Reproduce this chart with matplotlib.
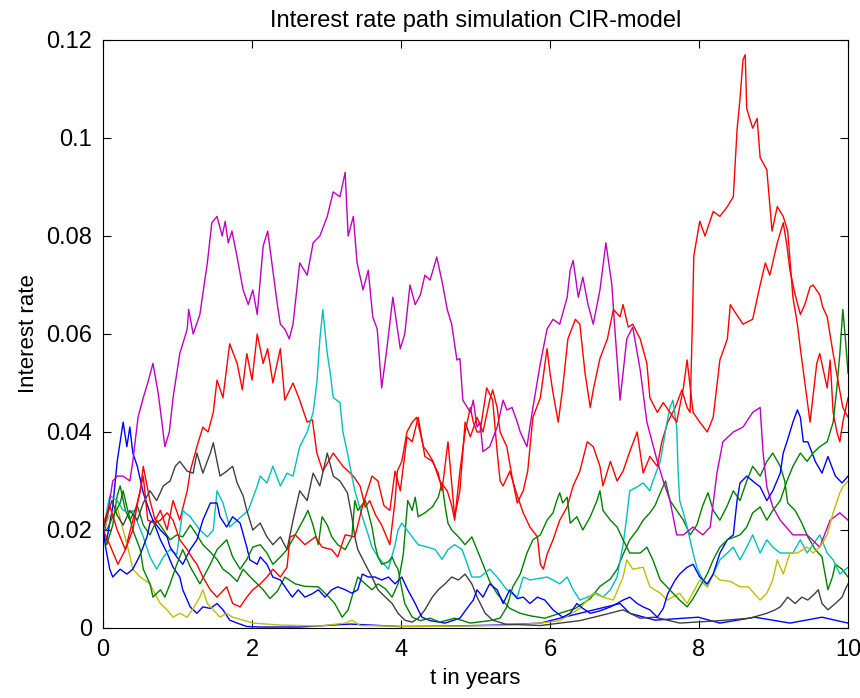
import matplotlib
matplotlib.use("Agg")
import matplotlib.pyplot as plt

plt.rcParams['font.family'] = ['Liberation Sans', 'DejaVu Sans']

title = "Interest rate path simulation CIR-model"
xlabel = "t in years"
ylabel = "Interest rate"
xticks = [0, 2, 4, 6, 8, 10]
yticks = [0, 0.02, 0.04, 0.06, 0.08, 0.1, 0.12]
ytick_labels = ["0", "0.02", "0.04", "0.06", "0.08", "0.1", "0.12"]

# ---- path 1 : blue (dies out early) ----
t_blue1 = [0, .05, .13, .19, .27, .32, .36, .40, .46, .54, .63, .67, .72, .77, .86, .94, 1.03, 1.07,
           1.17, 1.26, 1.34, 1.44, 1.53, 1.61, 1.70, 1.80, 1.93, 2.11, 2.64, 3.32, 3.99, 4.66, 5.33,
           5.87, 6.40, 6.67, 6.94, 7.07, 7.41, 7.99, 8.28, 8.75, 9.22, 9.65, 10.0]
r_blue1 = [.018, .018, .0247, .034, .042, .037, .041, .0357, .033, .0276, .0235, .022, .020, .018, .0153,
           .0124, .0104, .0078, .0043, .003, .0043, .004, .005, .0037, .0016, .001, .0003, .0002, .0002,
           .0008, .0003, .0004, .0006, .001, .003, .004, .005, .003, .0016, .0022, .001, .0022, .001,
           .0022, .001]

# ---- path 2 : green ----
t_green1 = [0, .05, .13, .19, .23, .30, .36, .46, .54, .63, .72, .81, .90, .99, 1.07, 1.17, 1.26, 1.34,
            1.44, 1.53, 1.61, 1.70, 1.80, 1.88, 1.97, 2.07, 2.15, 2.24, 2.34, 2.44, 2.58, 2.71, 2.89,
            3.02, 3.11, 3.21, 3.29, 3.34, 3.42, 3.52, 3.61, 3.69, 3.79, 3.88, 3.96, 4.03, 4.09, 4.15,
            4.19, 4.23, 4.32, 4.42, 4.50, 4.55, 4.59, 4.63, 4.68, 4.77, 4.86, 4.95, 5.02, 5.10, 5.19,
            5.29, 5.37, 5.46, 5.60, 5.73, 5.93, 6.13, 6.34, 6.54, 6.67, 6.81, 6.90, 6.98, 7.07, 7.17,
            7.25, 7.34, 7.41, 7.48, 7.55, 7.61, 7.70, 7.79, 7.88, 7.97, 8.05, 8.12, 8.19, 8.28, 8.38,
            8.46, 8.55, 8.64, 8.72, 8.82, 8.91, 8.99, 9.09, 9.15, 9.19, 9.29, 9.38, 9.46, 9.56, 9.65,
            9.73, 9.79, 9.83, 9.92, 10.0]
r_green1 = [.020, .017, .021, .027, .029, .024, .022, .025, .021, .019, .022, .020, .018, .019, .0186,
            .021, .019, .017, .0155, .014, .012, .011, .0095, .012, .0105, .009, .0078, .006, .0075,
            .0104, .009, .0085, .0084, .0065, .005, .0022, .0037, .0063, .0104, .009, .0078, .009, .008,
            .0063, .009, .015, .026, .024, .0267, .0227, .0235, .0247, .0267, .0296, .025, .0214, .020,
            .0186, .017, .0186, .016, .013, .0095, .007, .0055, .004, .003, .0025, .002, .003, .004,
            .006, .0085, .010, .012, .015, .018, .020, .022, .0235, .025, .0276, .030, .026, .024, .022,
            .019, .021, .025, .0276, .024, .022, .025, .028, .026, .030, .033, .031, .034, .0357, .033,
            .030, .0255, .024, .0214, .0186, .016, .0145, .0078, .0104, .013, .012, .0104]

# ---- path 3 : red (reaches the maximum) ----
t_red1 = [0, .09, .20, .30, .40, .50, .54, .63, .70, .77, .86, .94, 1.03, 1.13, 1.17, 1.26, 1.34, 1.41,
          1.48, 1.53, 1.61, 1.70, 1.80, 1.87, 1.93, 2.00, 2.07, 2.15, 2.21, 2.28, 2.38, 2.44, 2.55, 2.64,
          2.74, 2.81, 2.87, 2.95, 3.09, 3.22, 3.36, 3.45, 3.52, 3.58, 3.66, 3.74, 3.85, 3.92, 3.95, 4.01,
          4.08, 4.15, 4.21, 4.30, 4.35, 4.43, 4.52, 4.62, 4.68, 4.72, 4.79, 4.86, 4.93, 4.97, 5.02, 5.06,
          5.15, 5.23, 5.29, 5.33, 5.37, 5.46, 5.56, 5.64, 5.73, 5.83, 5.87, 5.91, 5.96, 6.04, 6.13, 6.23,
          6.31, 6.40, 6.50, 6.58, 6.67, 6.71, 6.81, 6.90, 6.98, 7.07, 7.17, 7.25, 7.34, 7.44, 7.50, 7.58,
          7.68, 7.77, 7.84, 7.88, 7.91, 7.93, 8.01, 8.08, 8.19, 8.28, 8.38, 8.46, 8.51, 8.55, 8.59, 8.62,
          8.64, 8.72, 8.78, 8.82, 8.91, 8.98, 9.05, 9.13, 9.19, 9.26, 9.32, 9.36, 9.45, 9.49, 9.58, 9.62,
          9.72, 9.76, 9.80, 9.85, 9.89, 9.93, 10.0]
r_red1 = [.020, .017, .013, .016, .022, .028, .033, .026, .022, .024, .020, .026, .022, .028, .032, .037,
          .041, .040, .044, .0506, .047, .058, .054, .0486, .056, .0506, .060, .054, .057, .050, .057,
          .0465, .050, .0465, .042, .0425, .0357, .032, .0357, .033, .031, .029, .0247, .026, .023, .021,
          .017, .026, .032, .034, .040, .042, .043, .037, .036, .034, .030, .028, .025, .022, .032, .040,
          .045, .042, .040, .040, .049, .0465, .036, .030, .029, .032, .027, .0235, .0206, .0186, .013,
          .012, .015, .018, .022, .0247, .029, .032, .038, .037, .033, .029, .034, .030, .032, .036, .040,
          .0316, .035, .033, .038, .042, .045, .0486, .045, .044, .062, .076, .083, .080, .085, .084,
          .086, .088, .1016, .108, .116, .117, .106, .102, .104, .096, .0935, .081, .086, .084, .081,
          .0675, .062, .057, .0465, .042, .054, .056, .049, .0547, .044, .040, .038, .042, .047]

# ---- path 4 : cyan ----
t_cyan = [0, .09, .19, .27, .36, .40, .54, .63, .72, .81, .90, .99, 1.07, 1.17, 1.30, 1.40, 1.48, 1.53,
          1.61, 1.70, 1.80, 1.95, 2.07, 2.11, 2.20, 2.28, 2.38, 2.47, 2.55, 2.64, 2.74, 2.82, 2.87, 2.91,
          2.95, 3.01, 3.05, 3.09, 3.18, 3.22, 3.29, 3.34, 3.38, 3.48, 3.56, 3.61, 3.69, 3.83, 3.92, 3.96,
          4.01, 4.15, 4.23, 4.36, 4.46, 4.55, 4.63, 4.72, 4.82, 4.89, 4.95, 5.06, 5.19, 5.29, 5.42, 5.56,
          5.64, 5.73, 5.96, 6.04, 6.13, 6.23, 6.31, 6.40, 6.50, 6.63, 6.71, 6.81, 6.90, 6.98, 7.03, 7.07,
          7.17, 7.25, 7.34, 7.38, 7.48, 7.57, 7.61, 7.65, 7.70, 7.72, 7.74, 7.79, 7.84, 7.92, 7.97, 8.01,
          8.11, 8.19, 8.28, 8.38, 8.46, 8.55, 8.64, 8.72, 8.82, 8.91, 8.99, 9.09, 9.26, 9.36, 9.45, 9.62,
          9.72, 9.80, 9.89, 10.0]
r_cyan = [.020, .027, .026, .024, .0235, .024, .0186, .0145, .012, .0145, .016, .015, .024, .0227, .020,
          .0186, .020, .028, .0255, .0206, .022, .024, .029, .031, .0296, .033, .029, .0316, .031, .037,
          .040, .044, .050, .0588, .065, .056, .052, .047, .046, .040, .035, .031, .028, .0227, .019,
          .0165, .0145, .012, .017, .020, .0214, .0186, .017, .0165, .016, .014, .016, .017, .016, .013,
          .0104, .0104, .012, .0104, .0078, .0063, .0104, .0098, .0104, .0098, .009, .0104, .0078, .0057,
          .0063, .0071, .0063, .0078, .0104, .017, .0227, .028, .0288, .0296, .028, .030, .034, .042,
          .045, .0465, .041, .0316, .026, .0235, .0206, .0153, .0124, .011, .0084, .011, .0139, .0153,
          .0165, .0139, .0165, .019, .0153, .018, .0165, .0153, .0153, .018, .0153, .019, .0153, .0139,
          .011, .0124]

# ---- path 5 : magenta ----
t_mag = [0, .05, .13, .19, .27, .36, .40, .47, .54, .60, .67, .74, .79, .83, .89, .94, .99, 1.03, 1.13,
         1.15, 1.21, 1.30, 1.40, 1.46, 1.53, 1.60, 1.64, 1.68, 1.73, 1.80, 1.88, 1.95, 2.01, 2.07, 2.15,
         2.21, 2.28, 2.34, 2.38, 2.44, 2.50, 2.55, 2.64, 2.74, 2.82, 2.91, 3.01, 3.09, 3.18, 3.25, 3.29,
         3.36, 3.41, 3.49, 3.56, 3.62, 3.68, 3.74, 3.81, 3.89, 3.99, 4.05, 4.12, 4.19, 4.26, 4.32, 4.39,
         4.48, 4.56, 4.62, 4.68, 4.75, 4.79, 4.83, 4.93, 4.97, 5.02, 5.06, 5.10, 5.19, 5.29, 5.37, 5.42,
         5.49, 5.56, 5.60, 5.69, 5.77, 5.87, 5.96, 6.04, 6.13, 6.23, 6.27, 6.31, 6.38, 6.44, 6.51, 6.58,
         6.67, 6.75, 6.83, 6.87, 6.94, 7.03, 7.11, 7.21, 7.30, 7.44, 7.52, 7.61, 7.70, 7.79, 7.92, 8.05,
         8.15, 8.24, 8.32, 8.46, 8.59, 8.72, 8.82, 8.86, 8.91, 8.99, 9.09, 9.26, 9.45, 9.62, 9.76, 9.89,
         10.0]
r_mag = [.018, .022, .030, .031, .031, .030, .034, .043, .047, .050, .054, .048, .042, .037, .040, .047,
         .052, .056, .061, .065, .060, .064, .0745, .0827, .084, .080, .083, .0786, .081, .0757, .069,
         .066, .069, .064, .078, .081, .073, .066, .062, .061, .059, .062, .0745, .072, .0786, .080, .084,
         .089, .088, .093, .080, .084, .0745, .069, .073, .0635, .061, .049, .057, .0675, .057, .060,
         .070, .066, .068, .072, .071, .0757, .070, .065, .062, .0547, .055, .0465, .044, .0465, .041,
         .042, .036, .037, .041, .0465, .0445, .045, .042, .040, .037, .045, .054, .061, .063, .062,
         .0675, .073, .075, .0675, .0716, .066, .062, .069, .0786, .070, .061, .0465, .059, .0614, .0527,
         .042, .034, .030, .026, .019, .019, .0206, .019, .0206, .0316, .038, .040, .041, .044, .045,
         .0357, .0288, .0247, .022, .019, .019, .0165, .022, .0235, .022]

# ---- path 6 : yellow ----
t_yel = [0, .09, .19, .27, .34, .40, .50, .63, .72, .77, .86, .94, 1.03, 1.13, 1.21, 1.30, 1.34, 1.40,
         1.48, 1.57, 1.66, 1.74, 1.88, 2.01, 2.38, 2.91, 3.25, 3.34, 3.45, 4.26, 5.33, 5.87, 6.13, 6.40,
         6.58, 6.71, 6.85, 6.98, 7.03, 7.11, 7.25, 7.34, 7.48, 7.57, 7.74, 7.84, 8.01, 8.11, 8.19, 8.28,
         8.42, 8.55, 8.66, 8.82, 8.91, 8.99, 9.05, 9.13, 9.22, 9.32, 9.45, 9.53, 9.62, 9.72, 9.80, 9.89,
         9.93, 10.0]
r_yel = [.020, .023, .0247, .020, .016, .012, .0104, .009, .0063, .005, .0037, .0022, .003, .0022, .004,
         .0063, .0078, .005, .0037, .0022, .003, .0022, .0016, .001, .0006, .0004, .001, .0016, .0005,
         .0003, .0005, .001, .0015, .004, .0071, .0063, .0057, .0104, .0139, .012, .0124, .0084, .0071,
         .0057, .0071, .005, .0098, .0084, .011, .0098, .0095, .0084, .0084, .0057, .0071, .0098, .0139,
         .011, .0153, .0153, .0165, .0153, .0165, .019, .0235, .0276, .0288, .030]

# ---- path 7 : dark grey ----
t_grey = [0, .05, .12, .19, .27, .36, .46, .54, .63, .72, .81, .90, .97, 1.03, 1.13, 1.21, 1.26, 1.34,
          1.44, 1.48, 1.53, 1.57, 1.66, 1.74, 1.80, 1.88, 1.93, 2.01, 2.11, 2.20, 2.28, 2.38, 2.47, 2.55,
          2.64, 2.74, 2.82, 2.91, 3.01, 3.09, 3.18, 3.28, 3.34, 3.38, 3.42, 3.52, 3.61, 3.69, 3.79, 3.88,
          3.96, 4.05, 4.15, 4.23, 4.32, 4.42, 4.50, 4.59, 4.68, 4.77, 4.86, 4.95, 5.03, 5.13, 5.23, 5.40,
          5.87, 6.40, 6.67, 6.98, 7.21, 7.41, 7.74, 8.28, 8.68, 8.91, 9.02, 9.09, 9.19, 9.29, 9.38, 9.46,
          9.56, 9.60, 9.65, 9.73, 9.83, 9.92, 9.96, 10.0]
r_grey = [.020, .0227, .026, .023, .021, .024, .022, .0255, .028, .026, .029, .030, .033, .034, .032,
          .0316, .0357, .0316, .0357, .0378, .034, .031, .032, .033, .0296, .027, .024, .020, .0214,
          .0186, .017, .0186, .016, .022, .028, .026, .0316, .029, .0357, .031, .030, .0276, .0227, .0186,
          .016, .013, .0104, .0078, .0063, .005, .003, .0016, .0012, .002, .0037, .0063, .0078, .009,
          .0104, .0098, .011, .009, .006, .003, .0016, .0008, .0005, .0015, .0025, .0037, .002, .0022,
          .001, .0015, .002, .003, .0037, .0043, .0063, .005, .0063, .0057, .0071, .0078, .005, .0037,
          .005, .0063, .0078, .009]

# ---- path 8 : blue ----
t_blue2 = [0, .04, .09, .13, .23, .32, .40, .50, .59, .63, .67, .77, .86, .90, .99, 1.07, 1.17, 1.26,
           1.34, 1.44, 1.53, 1.57, 1.66, 1.74, 1.84, 1.93, 1.97, 2.07, 2.11, 2.20, 2.28, 2.38, 2.47, 2.54,
           2.62, 2.71, 2.81, 2.89, 2.98, 3.07, 3.15, 3.25, 3.34, 3.42, 3.48, 3.56, 3.65, 3.74, 3.83, 3.92,
           4.01, 4.09, 4.19, 4.23, 4.28, 4.39, 4.59, 4.79, 4.90, 4.97, 5.02, 5.10, 5.19, 5.29, 5.37, 5.46,
           5.56, 5.64, 5.73, 5.83, 5.93, 6.04, 6.17, 6.27, 6.36, 6.44, 6.54, 6.67, 6.81, 6.90, 6.98, 7.07,
           7.17, 7.25, 7.34, 7.44, 7.52, 7.58, 7.68, 7.74, 7.84, 7.92, 8.01, 8.11, 8.19, 8.28, 8.38, 8.46,
           8.51, 8.55, 8.64, 8.72, 8.82, 8.91, 8.99, 9.09, 9.13, 9.18, 9.26, 9.32, 9.36, 9.40, 9.46, 9.56,
           9.65, 9.73, 9.83, 9.92, 10.0]
r_blue2 = [.020, .016, .012, .0104, .012, .011, .012, .015, .0186, .0214, .022, .020, .0186, .0165, .0145,
           .013, .016, .018, .022, .0255, .0255, .0227, .0206, .0227, .0214, .0165, .0139, .013, .0145,
           .013, .0104, .0098, .0078, .0063, .0078, .0063, .007, .0078, .0063, .0078, .0084, .0078, .0071,
           .0078, .011, .0104, .0104, .0098, .0104, .009, .0104, .0078, .005, .0037, .0022, .0015, .001,
           .002, .0043, .0057, .0078, .0063, .009, .0078, .005, .0078, .006, .0063, .005, .0063, .0057,
           .0037, .0022, .003, .005, .004, .003, .0035, .0043, .005, .0057, .0063, .005, .0043, .0037,
           .0022, .004, .007, .0098, .011, .0124, .013, .0104, .009, .011, .0153, .018, .019, .026, .0296,
           .031, .030, .0288, .026, .028, .0316, .0357, .038, .042, .0445, .043, .038, .038, .034, .0316,
           .035, .031, .0296, .031]

# ---- path 9 : green (ends high) ----
t_green2 = [0, .05, .13, .23, .27, .32, .40, .50, .54, .63, .67, .77, .83, .90, .99, 1.07, 1.17, 1.30,
            1.37, 1.44, 1.53, 1.66, 1.74, 1.84, 1.93, 2.01, 2.11, 2.20, 2.28, 2.38, 2.47, 2.58, 2.71, 2.75,
            2.81, 2.89, 2.94, 3.01, 3.07, 3.15, 3.25, 3.34, 3.38, 3.42, 3.52, 3.61, 3.65, 3.69, 3.74, 3.83,
            3.88, 3.92, 3.96, 4.01, 4.05, 4.15, 4.26, 4.39, 4.52, 4.72, 4.93, 5.19, 5.33, 5.42, 5.50, 5.60,
            5.69, 5.77, 5.87, 5.96, 6.04, 6.09, 6.13, 6.17, 6.23, 6.27, 6.36, 6.44, 6.54, 6.63, 6.67, 6.71,
            6.81, 6.90, 6.98, 7.07, 7.21, 7.30, 7.38, 7.48, 7.57, 7.65, 7.74, 7.84, 7.92, 8.01, 8.11, 8.19,
            8.28, 8.38, 8.55, 8.64, 8.72, 8.82, 8.91, 8.99, 9.09, 9.18, 9.26, 9.36, 9.45, 9.53, 9.62, 9.72,
            9.80, 9.85, 9.89, 9.93, 9.97, 10.0]
r_green2 = [.020, .020, .0227, .0255, .028, .0247, .020, .016, .012, .009, .0063, .0078, .0063, .009, .013,
            .016, .0125, .009, .011, .013, .016, .018, .0145, .012, .014, .0165, .017, .0153, .013, .0145,
            .016, .019, .0227, .024, .0214, .017, .0227, .021, .0186, .017, .016, .0186, .026, .024, .026,
            .0206, .017, .0145, .013, .0135, .0145, .013, .012, .008, .005, .0022, .0015, .002, .0012, .002,
            .001, .0015, .002, .0043, .0084, .011, .0153, .018, .019, .022, .0235, .026, .0276, .0255,
            .0267, .0214, .0227, .020, .0227, .026, .028, .024, .022, .0206, .018, .0153, .0153, .0165,
            .0139, .0098, .0084, .0071, .0057, .0043, .006, .0084, .011, .0139, .0165, .018, .019, .0206,
            .0235, .0247, .022, .024, .026, .030, .033, .0357, .034, .0357, .037, .038, .042, .049, .056,
            .065, .058, .052]

# ---- path 10 : red ----
t_red2 = [0, .09, .19, .30, .40, .47, .54, .60, .70, .77, .86, .94, 1.03, 1.13, 1.21, 1.26, 1.34, 1.44,
          1.53, 1.66, 1.74, 1.84, 1.93, 2.01, 2.11, 2.20, 2.28, 2.38, 2.47, 2.51, 2.58, 2.71, 2.85, 2.94,
          3.07, 3.15, 3.25, 3.38, 3.48, 3.61, 3.69, 3.77, 3.85, 3.92, 3.99, 4.08, 4.15, 4.23, 4.32, 4.42,
          4.50, 4.55, 4.63, 4.72, 4.79, 4.86, 4.93, 5.02, 5.10, 5.19, 5.23, 5.29, 5.33, 5.42, 5.50, 5.56,
          5.64, 5.70, 5.77, 5.87, 5.96, 6.00, 6.04, 6.11, 6.17, 6.24, 6.34, 6.40, 6.47, 6.54, 6.58, 6.67,
          6.77, 6.85, 6.94, 6.98, 7.05, 7.11, 7.21, 7.30, 7.34, 7.44, 7.52, 7.61, 7.70, 7.79, 7.84, 7.92,
          8.01, 8.11, 8.19, 8.28, 8.38, 8.42, 8.46, 8.59, 8.72, 8.82, 8.89, 8.95, 9.05, 9.13, 9.18, 9.22,
          9.29, 9.36, 9.42, 9.49, 9.53, 9.62, 9.66, 9.72, 9.80, 9.87, 9.93, 10.0]
r_red2 = [.021, .025, .020, .016, .020, .026, .031, .022, .0214, .022, .0235, .022, .018, .016, .014, .013,
          .0104, .0078, .0063, .0084, .005, .0043, .0063, .0078, .009, .0104, .012, .0104, .0124, .0186,
          .019, .017, .0186, .0165, .016, .0145, .019, .0186, .0247, .031, .030, .025, .024, .032, .028,
          .039, .038, .043, .035, .034, .0316, .028, .038, .0227, .028, .042, .039, .043, .040, .0465,
          .0486, .045, .040, .037, .030, .0255, .028, .032, .043, .047, .057, .052, .048, .042, .049, .059,
          .063, .062, .052, .045, .0486, .055, .059, .065, .0635, .066, .0614, .062, .059, .054, .047,
          .044, .046, .044, .042, .049, .0547, .044, .042, .040, .043, .0547, .059, .066, .065, .062,
          .063, .070, .0745, .072, .0786, .0827, .078, .073, .068, .064, .066, .0696, .070, .068, .0655,
          .0635, .056, .050, .045, .043]

paths = [
    (t_blue1, r_blue1, (0, 0, 1)),
    (t_green1, r_green1, (0, 0.5, 0)),
    (t_red1, r_red1, (1, 0, 0)),
    (t_cyan, r_cyan, (0, 0.75, 0.75)),
    (t_mag, r_mag, (0.75, 0, 0.75)),
    (t_yel, r_yel, (0.75, 0.75, 0)),
    (t_grey, r_grey, (0.25, 0.25, 0.25)),
    (t_blue2, r_blue2, (0, 0, 1)),
    (t_green2, r_green2, (0, 0.5, 0)),
    (t_red2, r_red2, (1, 0, 0)),
]

fig = plt.figure(figsize=(8.6, 6.98), dpi=100)
ax = fig.add_axes([0.1198, 0.1003, 0.8663, 0.8424])

for t, r, c in paths:
    ax.plot(t, r, color=c, lw=1.0)

ax.set_xlim(0, 10)
ax.set_ylim(0, 0.12)
ax.set_xticks(xticks)
ax.set_xticklabels([str(v) for v in xticks])
ax.set_yticks(yticks)
ax.set_yticklabels(ytick_labels)
ax.tick_params(direction='in', length=6, width=0.8, top=True, right=True,
               labelsize=17, pad=8, colors='black')
for s in ax.spines.values():
    s.set_linewidth(0.8)
    s.set_color('black')

ax.set_title(title, fontsize=17, pad=9)
ax.set_xlabel(xlabel, fontsize=16, labelpad=5)
ax.set_ylabel(ylabel, fontsize=16, labelpad=5)

fig.savefig("out.png", dpi=100, facecolor='white')
